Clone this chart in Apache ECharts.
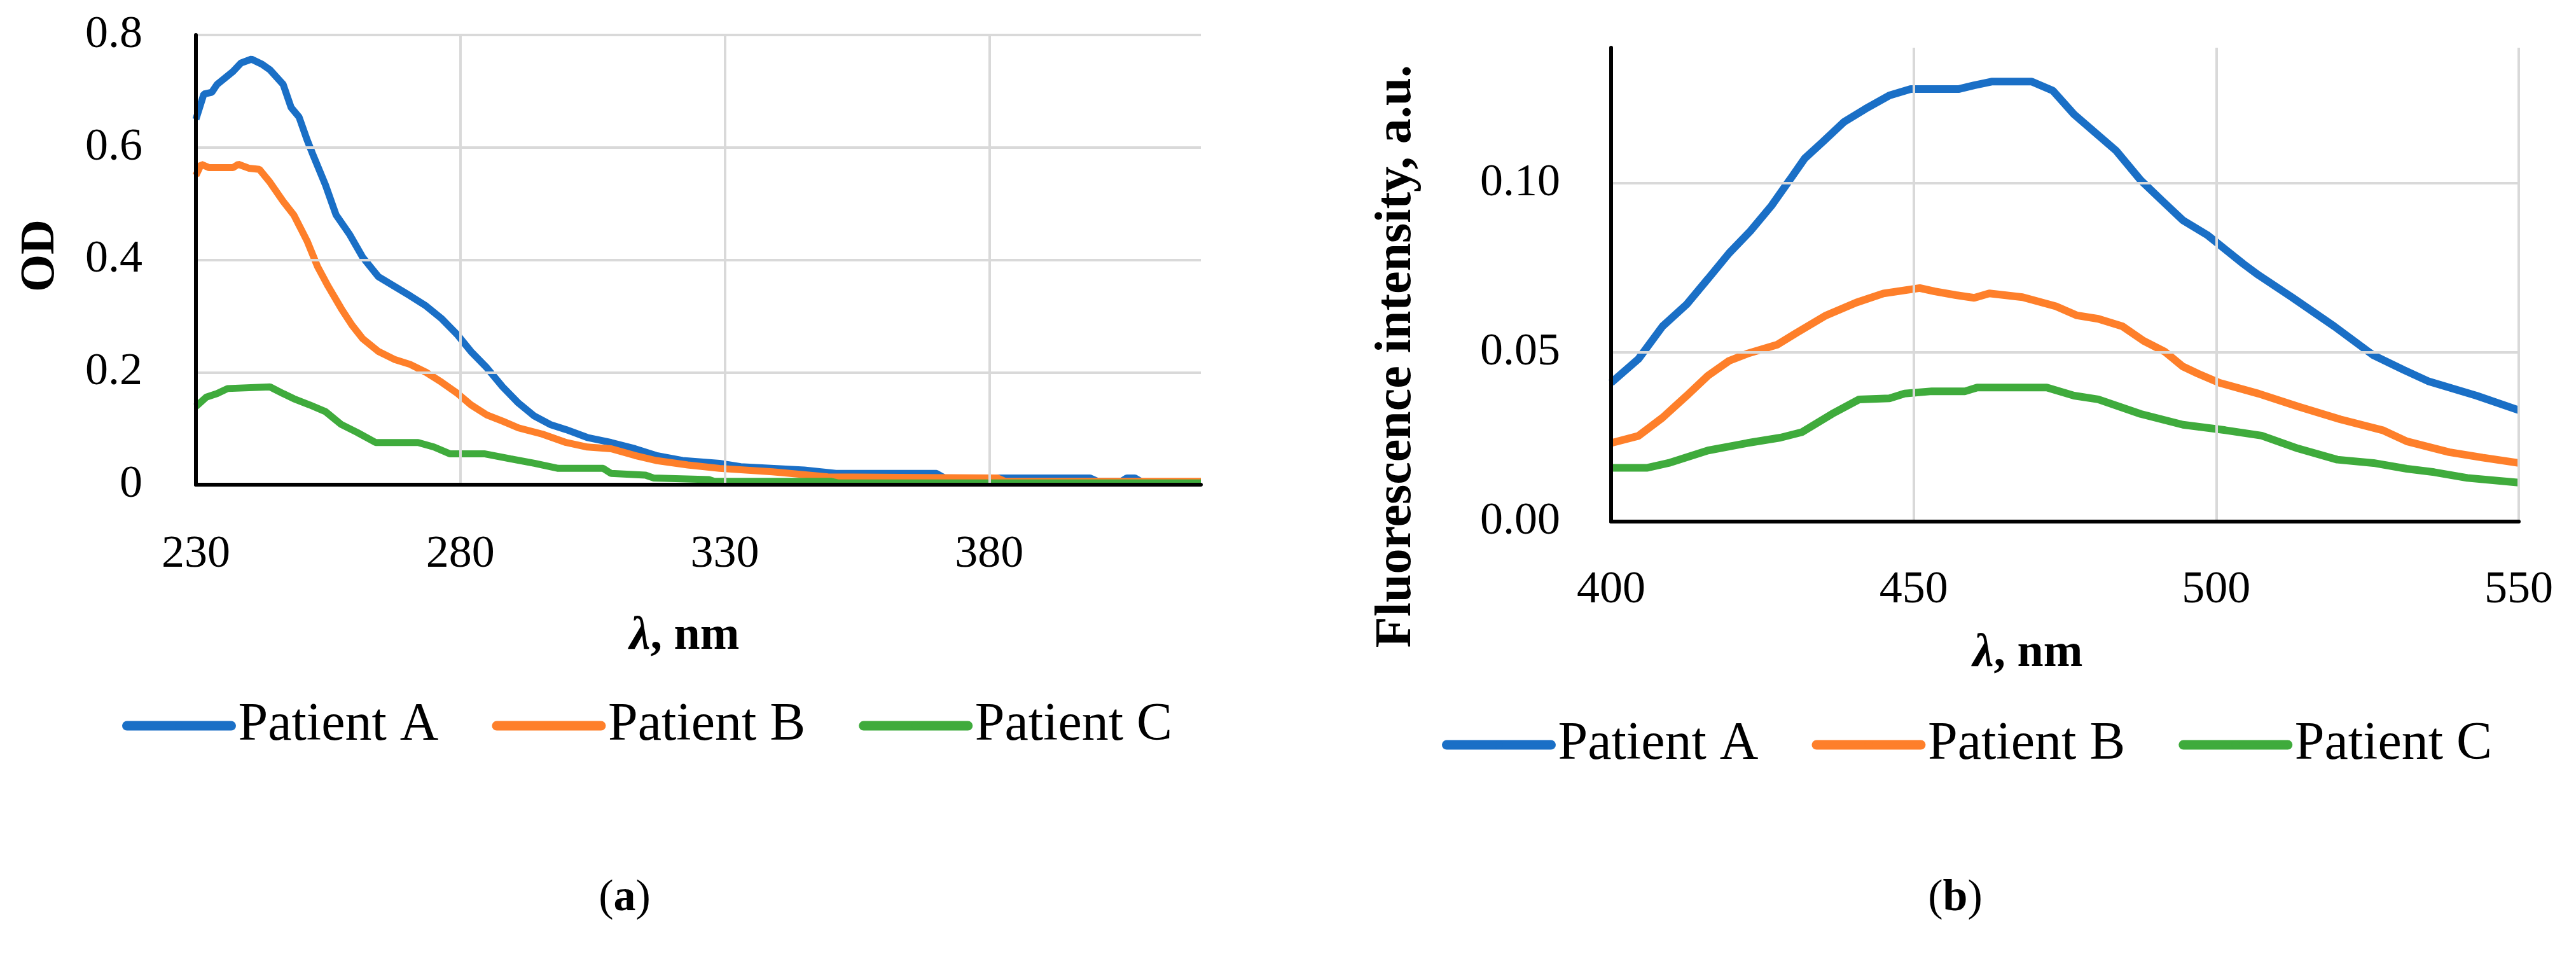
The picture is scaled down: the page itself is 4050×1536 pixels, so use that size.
<!DOCTYPE html>
<html>
<head>
<meta charset="utf-8">
<script src="https://cdn.jsdelivr.net/npm/echarts@6/dist/echarts.min.js"></script>
<style>
html,body{margin:0;padding:0;background:#fff;}
#c{width:4050px;height:1536px;}
</style>
</head>
<body>
<div id="c"></div>
<script>
// ---------- DATA ----------
const seriesNames = ['Patient A', 'Patient B', 'Patient C'];
const colors = ['#1a6fc6', '#fe7f2a', '#3fab3c'];

// (a) absorbance, OD vs wavelength (nm)
const absA_x = [230,231.5,233,234,237,238.5,240.5,242.5,244,246.5,248,249.5,251,252,254.5,256.5,259,261.5,264.5,267.5,270.5,273.5,276.5,279.5,282,285,288,291,294,297,300,304,308.5,313,317,322,329,333,345,351,370,371.5,399,400.5,405,406,407.5,409,420];
const absA_y = [0.650,0.695,0.698,0.712,0.735,0.750,0.757,0.748,0.738,0.712,0.671,0.654,0.614,0.590,0.533,0.480,0.446,0.405,0.370,0.353,0.336,0.318,0.295,0.266,0.237,0.208,0.174,0.145,0.122,0.107,0.098,0.084,0.075,0.064,0.052,0.043,0.038,0.032,0.026,0.020,0.020,0.012,0.012,0.006,0.006,0.012,0.012,0.004,0.004];
const absB_x = [230,231,232.5,237,238,240,242,244,246.5,248.5,251,253,255,257.5,259.5,261.5,264.5,267.5,270.5,273.5,276.5,279.5,282,285,288,291,295.5,300,304,308.5,313,317,323,329,339,349.5,381.5,383,420];
const absB_y = [0.550,0.570,0.564,0.564,0.570,0.563,0.561,0.538,0.504,0.480,0.434,0.388,0.353,0.313,0.284,0.260,0.237,0.223,0.214,0.200,0.182,0.162,0.142,0.124,0.113,0.101,0.090,0.075,0.067,0.064,0.052,0.043,0.035,0.029,0.023,0.014,0.012,0.006,0.006];
const absC_x = [230,232,234,236,244,246.5,248.5,251.5,254.5,257.5,260.5,264,272,275,278,284.5,289.5,294,298.5,307,308.5,315,316.5,327,328,350,351.5,420];
const absC_y = [0.139,0.156,0.162,0.171,0.174,0.162,0.153,0.142,0.130,0.107,0.093,0.075,0.075,0.067,0.055,0.055,0.046,0.038,0.029,0.029,0.020,0.017,0.012,0.009,0.006,0.006,0.003,0.003];

// (b) fluorescence intensity (a.u.) vs wavelength (nm)
const flA_x = [400,404.5,408.5,412.5,416,419.5,423,426.5,429.5,432,435,438.5,442,446,449.5,457.5,460,463,469.5,473,476.5,480,483.5,487.5,491,494.5,498.5,501.5,504.5,507,512.5,519.5,526,531,535,543,550];
const flA_y = [0.0410,0.0480,0.0577,0.0642,0.0717,0.0793,0.0858,0.0933,0.1009,0.1073,0.1122,0.1181,0.1219,0.1259,0.1278,0.1278,0.1289,0.1300,0.1300,0.1273,0.1203,0.1149,0.1095,0.1009,0.0949,0.0890,0.0847,0.0804,0.0761,0.0728,0.0663,0.0577,0.0491,0.0448,0.0415,0.0372,0.0329];
const flB_x = [400,404.5,408.5,412.5,416,419.5,422.5,427.5,430.5,435.5,440.5,445,451,453.5,457,460,462.5,468,473.5,477,480.5,484.5,488,491.5,494.5,497,500.5,507,513.5,520.5,527.5,531.5,538.5,544,550];
const flB_y = [0.0232,0.0253,0.0307,0.0372,0.0431,0.0475,0.0496,0.0523,0.0556,0.0609,0.0647,0.0674,0.0690,0.0680,0.0669,0.0661,0.0674,0.0663,0.0636,0.0609,0.0599,0.0577,0.0534,0.0502,0.0458,0.0437,0.0410,0.0378,0.0340,0.0302,0.0270,0.0237,0.0205,0.0189,0.0173];
const flC_x = [400,406,409.5,416,422.5,428,431.5,436.5,441,446,448.5,453,458.5,460.5,472,476.5,480.5,487.5,494.5,501.5,507.5,513.5,520,526,531.5,536,541.5,550];
const flC_y = [0.0159,0.0159,0.0173,0.0210,0.0232,0.0248,0.0264,0.0318,0.0361,0.0364,0.0378,0.0385,0.0385,0.0396,0.0396,0.0372,0.0361,0.0318,0.0286,0.0270,0.0254,0.0216,0.0183,0.0173,0.0156,0.0146,0.0129,0.0115];

// axis tick settings
const absX = {min: 230, max: 420, interval: 50};
const absY = {min: 0, max: 0.8, interval: 0.2};
const flX = {min: 400, max: 550, interval: 50};
const flY = {min: 0, max: 0.14, interval: 0.05};

// ---------- CHART ----------
function pairs(xs, ys) { return xs.map((x, i) => [x, ys[i]]); }
const FONT = '"Liberation Serif", "Times New Roman", serif';
const chart = echarts.init(document.getElementById('c'), null, {renderer: 'canvas'});

const axisLineStyle = {show: true, lineStyle: {color: '#000', width: 6}};
const gridLine = {show: true, lineStyle: {color: '#d9d9d9', width: 4}};
const labelStyle = {color: '#000', fontSize: 72, fontFamily: FONT};

const absData = [pairs(absA_x, absA_y), pairs(absB_x, absB_y), pairs(absC_x, absC_y)];
const flData = [pairs(flA_x, flA_y), pairs(flB_x, flB_y), pairs(flC_x, flC_y)];

const series = [];
for (let i = 0; i < 3; i++) {
  series.push({
    name: seriesNames[i], type: 'line', xAxisIndex: 0, yAxisIndex: 0,
    data: absData[i], symbol: 'none', smooth: false,
    lineStyle: {color: colors[i], width: 11}, itemStyle: {color: colors[i]}, z: 3
  });
}
for (let i = 0; i < 3; i++) {
  series.push({
    name: seriesNames[i], type: 'line', xAxisIndex: 1, yAxisIndex: 1,
    data: flData[i], symbol: 'none', smooth: false,
    lineStyle: {color: colors[i], width: 12}, itemStyle: {color: colors[i]}, z: 3
  });
}

const legendBase = {
  data: seriesNames, orient: 'horizontal', padding: 0,
  itemWidth: 164, itemHeight: 16, itemGap: 84,
  lineStyle: {width: 15, cap: 'round'},
  textStyle: {color: '#000', fontSize: 84, fontFamily: FONT, padding: [0, 0, 0, 6]},
  selectedMode: false
};

const option = {
  backgroundColor: '#fff',
  animation: false,
  color: colors,
  grid: [
    {left: 308, top: 55, width: 1580, height: 707, containLabel: false},
    {left: 2533, top: 75, width: 1427, height: 745, containLabel: false}
  ],
  legend: [
    Object.assign({}, legendBase, {left: 192, top: 1099}),
    Object.assign({}, legendBase, {left: 2267, top: 1129})
  ],
  xAxis: [
    {type: 'value', gridIndex: 0, min: absX.min, max: absX.max, interval: absX.interval,
     axisLine: axisLineStyle, axisTick: {show: false},
     axisLabel: Object.assign({margin: 74, showMaxLabel: false}, labelStyle),
     splitLine: Object.assign({showMinLine: false, showMaxLine: false}, gridLine), z: 5},
    {type: 'value', gridIndex: 1, min: flX.min, max: flX.max, interval: flX.interval,
     axisLine: axisLineStyle, axisTick: {show: false},
     axisLabel: Object.assign({margin: 72}, labelStyle),
     splitLine: Object.assign({showMinLine: false}, gridLine), z: 5}
  ],
  yAxis: [
    {type: 'value', gridIndex: 0, min: absY.min, max: absY.max, interval: absY.interval,
     axisLine: axisLineStyle, axisTick: {show: false},
     axisLabel: Object.assign({margin: 84}, labelStyle),
     splitLine: Object.assign({showMinLine: false}, gridLine), z: 5},
    {type: 'value', gridIndex: 1, min: flY.min, max: flY.max, interval: flY.interval,
     axisLine: axisLineStyle, axisTick: {show: false},
     axisLabel: Object.assign({margin: 80, showMaxLabel: false, formatter: v => v.toFixed(2)}, labelStyle),
     splitLine: Object.assign({showMinLine: false, showMaxLine: false}, gridLine), z: 5}
  ],
  graphic: [
    {type: 'text', x: 64, y: 402, rotation: Math.PI / 2,
     style: {text: 'OD', font: 'bold 76px ' + FONT, fill: '#000', textAlign: 'center', textVerticalAlign: 'middle'}},
    {type: 'text', x: 2196, y: 560, rotation: Math.PI / 2,
     style: {text: 'Fluorescence intensity, a.u.', font: 'bold 80px ' + FONT, fill: '#000', textAlign: 'center', textVerticalAlign: 'middle'}},
    {type: 'text', x: 1076, y: 1001,
     style: {text: '{i|λ}, nm', font: 'bold 74px ' + FONT, fill: '#000', textAlign: 'center', textVerticalAlign: 'middle',
             rich: {i: {fontStyle: 'italic', fontWeight: 'bold', fontSize: 74, fontFamily: FONT}}}},
    {type: 'text', x: 3188, y: 1028,
     style: {text: '{i|λ}, nm', font: 'bold 74px ' + FONT, fill: '#000', textAlign: 'center', textVerticalAlign: 'middle',
             rich: {i: {fontStyle: 'italic', fontWeight: 'bold', fontSize: 74, fontFamily: FONT}}}},
    {type: 'text', x: 982, y: 1413,
     style: {text: '({b|a})', font: '70px ' + FONT, fill: '#000', textAlign: 'center', textVerticalAlign: 'middle',
             rich: {b: {fontWeight: 'bold', fontSize: 70, fontFamily: FONT}}}},
    {type: 'text', x: 3074, y: 1413,
     style: {text: '({b|b})', font: '70px ' + FONT, fill: '#000', textAlign: 'center', textVerticalAlign: 'middle',
             rich: {b: {fontWeight: 'bold', fontSize: 70, fontFamily: FONT}}}}
  ],
  series: series
};
chart.setOption(option);
</script>
</body>
</html>
